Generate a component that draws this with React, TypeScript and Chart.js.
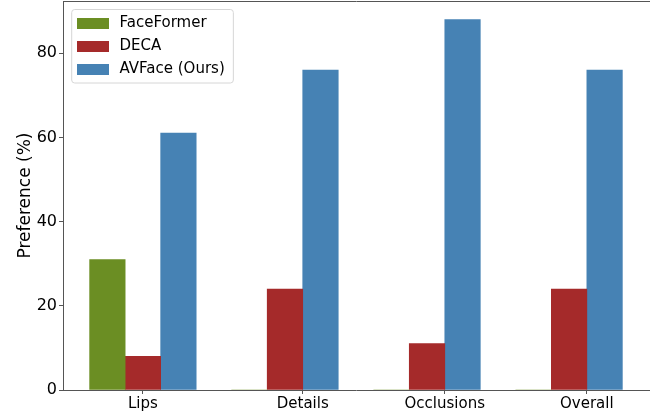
import React, { useEffect, useRef } from 'react';
import { Chart, registerables } from 'chart.js';

Chart.register(...registerables);

// ---- data ----
const categories = ['Lips', 'Details', 'Occlusions', 'Overall'];
const seriesNames = ['FaceFormer', 'DECA', 'AVFace (Ours)'];
const faceFormer = [31, 0, 0, 0];
const deca = [8, 24, 11, 24];
const avface = [61, 76, 88, 76];
const yTicks = [0, 20, 40, 60, 80];
const colors = ['#6B8E23', '#A52A2A', '#4682B4'];

const series = [faceFormer, deca, avface];
const BAR = 0.25; // bar width in group units
const X_MIN = -0.5625;
const X_MAX = 3.5625;
const Y_MAX = 92.4;
// tick label positions (first at middle bar, others between middle and right bar)
const tickPositions = categories.map((_, i) => i + (i === 0 ? 0 : BAR / 2));

const FONT = 'DejaVu Sans';

const framePlugin = {
  id: 'mplFrame',
  afterLayout(chart: any) {
    const lg = chart.legend;
    const ca = chart.chartArea;
    if (lg) {
      lg.left = ca.left + 6;
      lg.right = ca.right + 6;
      lg.top = ca.top + 7;
      lg.bottom = ca.bottom + 7;
    }
  },
  beforeDraw(chart: any) {
    const lg = chart.legend;
    if (!lg) return;
    const ctx = chart.ctx;
    ctx.save();
    ctx.font = `15px "${FONT}"`;
    let maxW = 0;
    seriesNames.forEach((n) => {
      maxW = Math.max(maxW, ctx.measureText(n).width);
    });
    const x0 = lg.left + 2.7;
    const y0 = lg.top + 1.5;
    const x1 = lg.left + 8 + 35 + 7.5 + maxW + 8.6;
    const n = seriesNames.length;
    const y1 = lg.top + 8 + n * 15 + (n - 1) * 8 + 6;
    const r = 3;
    ctx.beginPath();
    ctx.moveTo(x0 + r, y0);
    ctx.lineTo(x1 - r, y0);
    ctx.quadraticCurveTo(x1, y0, x1, y0 + r);
    ctx.lineTo(x1, y1 - r);
    ctx.quadraticCurveTo(x1, y1, x1 - r, y1);
    ctx.lineTo(x0 + r, y1);
    ctx.quadraticCurveTo(x0, y1, x0, y1 - r);
    ctx.lineTo(x0, y0 + r);
    ctx.quadraticCurveTo(x0, y0, x0 + r, y0);
    ctx.closePath();
    ctx.fillStyle = 'rgba(255,255,255,0.8)';
    ctx.fill();
    ctx.lineWidth = 1;
    ctx.strokeStyle = '#d6d6d6';
    ctx.stroke();
    ctx.restore();
  },
  beforeDatasetsDraw(chart: any) {
    const lg = chart.legend;
    if (!lg) return;
    const ctx = chart.ctx;
    ctx.save();
    seriesNames.forEach((_, i) => {
      ctx.fillStyle = colors[i];
      ctx.fillRect(lg.left + 8, lg.top + 8 + i * 23 + 2, 32, 11);
    });
    ctx.restore();
  },
  afterDraw(chart: any) {
    const { ctx, chartArea } = chart;
    ctx.save();
    ctx.strokeStyle = '#555';
    ctx.lineWidth = 1;
    ctx.beginPath();
    ctx.moveTo(chartArea.left, Math.round(chartArea.top) + 0.5);
    ctx.lineTo(chartArea.right + 1, Math.round(chartArea.top) + 0.5);
    ctx.stroke();
    ctx.restore();
  },
};

export default function App() {
  const ref = useRef<HTMLCanvasElement>(null);

  useEffect(() => {
    if (!ref.current) return;
    Chart.defaults.font.family = FONT;
    Chart.defaults.color = '#000';

    const datasets = series.map((vals, s) => ({
      label: seriesNames[s],
      data: vals.map((v, i) => ({ x: i + (s - 1) * BAR, y: v })),
      backgroundColor: colors[s],
      borderWidth: 0,
      grouped: false,
      barPercentage: 1,
      categoryPercentage: 1,
    }));

    const chart = new Chart(ref.current, {
      type: 'bar',
      data: { datasets: datasets as any },
      plugins: [framePlugin],
      options: {
        animation: false,
        responsive: false,
        maintainAspectRatio: false,
        devicePixelRatio: 1,
        layout: { padding: { top: 1, right: 1, left: 0, bottom: 0 } },
        plugins: {
          tooltip: { enabled: false },
          legend: {
            position: 'chartArea' as any,
            align: 'start',
            labels: {
              boxWidth: 35,
              boxHeight: 11,
              padding: 8,
              color: '#000',
              font: { size: 15, family: FONT },
              generateLabels: (c: any) =>
                c.data.datasets.map((ds: any, i: number) => ({
                  text: ds.label,
                  fillStyle: 'rgba(0,0,0,0)',
                  strokeStyle: 'rgba(0,0,0,0)',
                  lineWidth: 0,
                  hidden: false,
                  datasetIndex: i,
                })),
            },
          },
        },
        scales: {
          x: {
            type: 'linear',
            min: X_MIN,
            max: X_MAX,
            offset: false,
            afterBuildTicks: (s: any) => {
              s.ticks = tickPositions.map((v) => ({ value: v }));
            },
            afterFit: (s: any) => {
              s.height = 22;
              s.paddingLeft = 0;
              s.paddingRight = 0;
            },
            ticks: {
              autoSkip: false,
              maxRotation: 0,
              padding: 1,
              color: '#000',
              font: { size: 15, family: FONT },
              callback: (_v: any, i: number) => categories[i],
            },
            grid: { offset: false, drawOnChartArea: false, drawTicks: true, tickLength: 4, color: '#555' },
            border: { color: '#555', width: 1 },
          },
          y: {
            min: 0,
            max: Y_MAX,
            afterBuildTicks: (s: any) => {
              s.ticks = yTicks.map((v) => ({ value: v }));
            },
            afterFit: (s: any) => {
              s.width = 63;
              s.paddingTop = 0;
              s.paddingBottom = 0;
            },
            ticks: {
              padding: 2,
              color: '#000',
              font: { size: 16, family: FONT },
            },
            grid: { drawOnChartArea: false, drawTicks: true, tickLength: 4, color: '#555' },
            border: { color: '#555', width: 1 },
            title: {
              display: true,
              text: 'Preference (%)',
              color: '#000',
              font: { size: 17, family: FONT },
              padding: { top: 15, bottom: 0 },
            },
          },
        },
      },
    });
    return () => chart.destroy();
  }, []);

  return (
    <div style={{ position: 'fixed', left: 0, top: 0, width: 650, height: 412, background: '#fff' }}>
      <canvas ref={ref} width={650} height={412} />
    </div>
  );
}
